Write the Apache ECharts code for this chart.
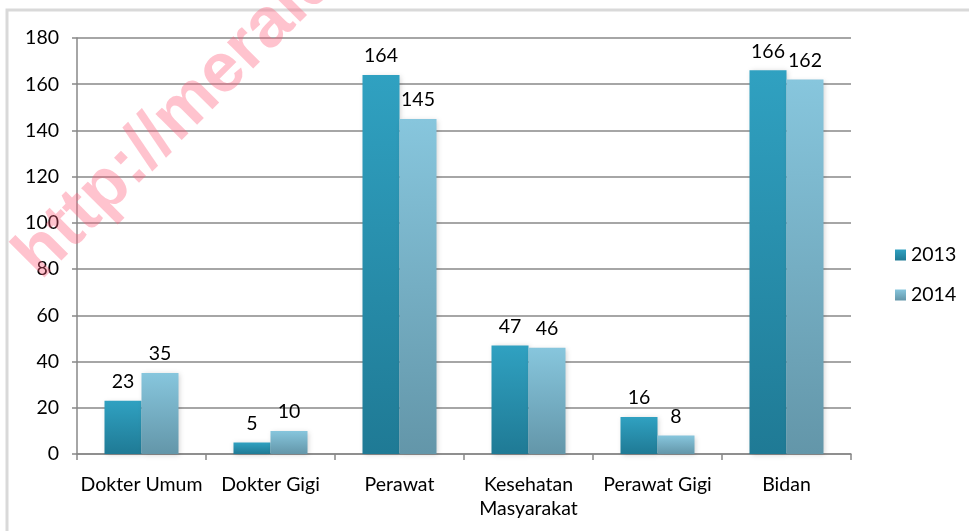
<!DOCTYPE html>
<html>
<head>
<meta charset="utf-8">
<script src="https://cdn.jsdelivr.net/npm/echarts@6/dist/echarts.min.js"></script>
<style>
html,body{margin:0;padding:0;background:#fff;}
#c{width:969px;height:531px;}
</style>
</head>
<body>
<div id="c"></div>
<script>
const categories = ['Dokter Umum', 'Dokter Gigi', 'Perawat', 'Kesehatan\nMasyarakat', 'Perawat Gigi', 'Bidan'];
const seriesNames = ['2013', '2014'];
const values2013 = [23, 5, 164, 47, 16, 166];
const values2014 = [35, 10, 145, 46, 8, 162];
const yTicks = [0, 20, 40, 60, 80, 100, 120, 140, 160, 180];

const FONT = 'Lato';
const FS = 19.5;
const chart = echarts.init(document.getElementById('c'), null, {renderer: 'canvas'});

function grad(top, bottom) {
  return new echarts.graphic.LinearGradient(0, 0, 0, 1, [
    {offset: 0, color: top}, {offset: 1, color: bottom}
  ]);
}

const labelStyle = {show: true, position: 'top', distance: 9, color: '#000', fontFamily: FONT, fontSize: FS};

chart.setOption({
  animation: false,
  textStyle: {fontFamily: FONT},
  graphic: [
    {type: 'rect', shape: {x: 7, y: 10, width: 980, height: 540}, style: {fill: 'none', stroke: '#d9d9d9', lineWidth: 3}, z: 0},
    {type: 'text', x: 52, y: 292, rotation: Math.PI / 4, z: 100,
     style: {text: 'http://meraldo', fill: 'rgba(255,90,120,0.36)', font: 'bold 70px "Liberation Sans"', textAlign: 'left', textVerticalAlign: 'bottom'}}
  ],
  grid: {left: 77, right: 118, top: 38, bottom: 77, containLabel: false},
  legend: {
    orient: 'vertical', left: 890, top: 240, itemWidth: 11, itemHeight: 11, itemGap: 20,
    icon: 'rect',
    textStyle: {fontFamily: FONT, fontSize: FS, color: '#000', padding: [0, 0, 0, 0]},
    data: seriesNames
  },
  xAxis: {
    type: 'category', data: categories,
    axisLine: {lineStyle: {color: '#888', width: 1.5}},
    axisTick: {show: true, alignWithLabel: false, length: 6, lineStyle: {color: '#888', width: 1.5}},
    axisLabel: {color: '#000', fontFamily: FONT, fontSize: FS, margin: 19, lineHeight: 24, interval: 0}
  },
  yAxis: {
    type: 'value', min: yTicks[0], max: yTicks[yTicks.length - 1], interval: 20,
    axisLine: {show: true, lineStyle: {color: '#888', width: 1.5}},
    axisTick: {show: true, length: 5, lineStyle: {color: '#888', width: 1.5}},
    splitLine: {lineStyle: {color: '#888', width: 1.5}},
    axisLabel: {color: '#000', fontFamily: FONT, fontSize: FS, margin: 18}
  },
  series: [
    {name: seriesNames[0], type: 'bar', data: values2013, barWidth: 37, barGap: '0%',
     itemStyle: {color: grad('#30a1c1', '#1f7a95'), shadowColor: 'rgba(0,0,0,0.18)', shadowBlur: 5, shadowOffsetX: 1, shadowOffsetY: 1},
     label: labelStyle},
    {name: seriesNames[1], type: 'bar', data: values2014, barWidth: 37, barGap: '0%',
     itemStyle: {color: grad('#87c6dd', '#6396a9'), shadowColor: 'rgba(0,0,0,0.18)', shadowBlur: 5, shadowOffsetX: 1, shadowOffsetY: 1},
     label: labelStyle}
  ]
});
</script>
</body>
</html>
